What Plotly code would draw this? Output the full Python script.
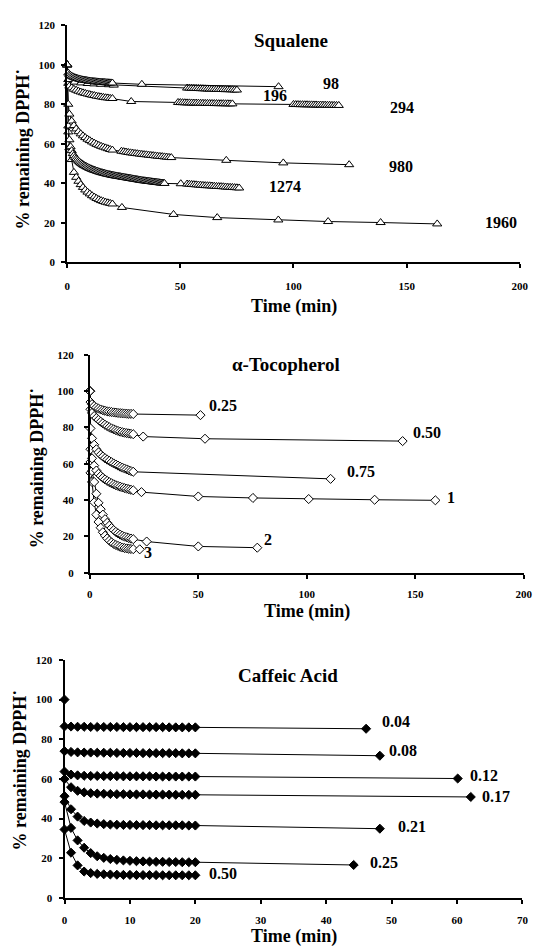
import plotly.graph_objects as go

# ---------------- Squalene (panel 1) ----------------
sq98_t = [0, 0.5, 1, 1.5, 2, 2.5, 3, 3.5, 4, 4.5,
          5, 5.5, 6, 6.5, 7, 7.5, 8, 8.5, 9, 9.5,
          10, 10.5, 11, 11.5, 12, 12.5, 13, 13.5, 14, 14.5,
          15, 15.5, 16, 16.5, 17, 17.5, 18, 18.5, 19, 19.5,
          20, 33, 93.4]
sq98_v = [100, 95.8, 95.0, 94.6, 94.2, 93.9, 93.6, 93.4, 93.2, 93.0,
          92.85, 92.7, 92.55, 92.4, 92.3, 92.2, 92.1, 92.0, 91.9, 91.8,
          91.7, 91.65, 91.6, 91.5, 91.45, 91.4, 91.35, 91.3, 91.25, 91.2,
          91.15, 91.1, 91.05, 91.0, 90.95, 90.9, 90.9, 90.85, 90.8, 90.8,
          90.75, 90.1, 88.9]

sq196_t = [0, 0.5, 3.3, 6.2, 9.1, 12, 14.9, 18.5, 20.6,
           53, 54, 55, 56, 57, 58, 59, 60, 61, 62,
           63, 64, 65, 66, 67, 68, 69, 70, 71, 72,
           73, 74, 75]
sq196_v = [100, 92.5, 91.2, 90.8, 90.5, 90.3, 90.1, 89.9, 89.7,
           88.2, 88.15, 88.1, 88.05, 88.0, 87.95, 87.9, 87.85, 87.8, 87.75,
           87.7, 87.65, 87.6, 87.55, 87.5, 87.5, 87.45, 87.4, 87.4, 87.35,
           87.3, 87.25, 87.2]

sq294_t = [0, 0.5, 1, 2, 3, 4, 5, 6, 7, 8, 9, 10,
           11, 12, 13, 14, 15, 16, 17, 18, 19, 20, 28.3,
           49, 50, 51, 52, 53, 54, 55, 56, 57, 58,
           59, 60, 61, 62, 63, 64, 65, 66, 67, 68,
           69, 70, 71, 72, 73,
           100, 101, 102, 103, 104, 105, 106, 107, 108, 109,
           110, 111, 112, 113, 114, 115, 116, 117, 118, 119, 120]
sq294_v = [100, 90.6, 89.2, 88.3, 87.6, 87.1, 86.6, 86.2, 85.8, 85.5, 85.2, 84.9,
           84.6, 84.4, 84.1, 83.9, 83.7, 83.5, 83.3, 83.2, 83.0, 82.9, 81.4,
           80.9, 80.85, 80.8, 80.75, 80.7, 80.7, 80.65, 80.6, 80.6, 80.55,
           80.5, 80.5, 80.45, 80.45, 80.4, 80.4, 80.35, 80.35, 80.3, 80.3,
           80.3, 80.25, 80.25, 80.2, 80.2,
           79.9, 79.85, 79.85, 79.8, 79.8, 79.75, 79.75, 79.7, 79.7, 79.65,
           79.65, 79.6, 79.6, 79.55, 79.55, 79.5, 79.5, 79.45, 79.45, 79.4, 79.4]

sq980_t = [0, 0.5, 1, 2, 3, 4, 5, 6, 7, 8, 9, 10,
           11, 12, 13, 14, 15, 16, 17, 18, 19, 20,
           24, 25, 26, 27, 28, 29, 30, 31, 32, 33,
           34, 35, 36, 37, 38, 39, 40, 41, 42, 43,
           44, 45, 46, 70.3, 95.5, 124.6]
sq980_v = [100, 80, 75, 71.5, 69.2, 67.5, 66.1, 65, 64, 63.1, 62.3, 61.6,
           60.9, 60.3, 59.7, 59.2, 58.7, 58.3, 57.9, 57.5, 57.1, 56.8,
           56.2, 56.0, 55.8, 55.6, 55.4, 55.25, 55.1, 54.95, 54.8, 54.65,
           54.5, 54.4, 54.25, 54.1, 54.0, 53.85, 53.7, 53.6, 53.5, 53.35,
           53.25, 53.1, 53.0, 51.6, 50.3, 49.4]

sq1274_t = [0, 0.5, 1, 1.5, 2, 2.5, 3, 3.5, 4, 4.5,
            5, 5.5, 6, 6.5, 7, 7.5, 8, 8.5, 9, 9.5,
            10, 10.5, 11, 11.5, 12, 12.5, 13, 13.5, 14, 14.5,
            15, 15.5, 16, 16.5, 17, 17.5, 18, 18.5, 19, 19.5,
            20, 20.5, 21, 21.5, 22, 22.5, 23, 23.5, 24, 24.5,
            25, 25.5, 26, 26.5, 27, 27.5, 28, 28.5, 29, 29.5,
            30, 30.5, 31, 31.5, 32, 32.5, 33, 33.5, 34, 34.5,
            35, 35.5, 36, 36.5, 37, 37.5, 38, 38.5, 39, 39.5,
            40, 40.5, 41, 41.5, 42, 42.5, 43, 50.2,
            53, 54, 55, 56, 57, 58, 59, 60, 61, 62,
            63, 64, 65, 66, 67, 68, 69, 70, 71, 72,
            73, 74, 75, 76]
sq1274_v = [100, 69, 62, 58.5, 56.5, 55, 54, 53.1, 52.4, 51.8,
            51.2, 50.7, 50.2, 49.8, 49.4, 49.0, 48.7, 48.4, 48.1, 47.8,
            47.5, 47.3, 47.0, 46.8, 46.6, 46.4, 46.2, 46.0, 45.8, 45.6,
            45.4, 45.3, 45.1, 45.0, 44.8, 44.7, 44.5, 44.4, 44.3, 44.1,
            44.0, 43.9, 43.8, 43.7, 43.6, 43.5, 43.4, 43.3, 43.2, 43.1,
            43.0, 42.9, 42.8, 42.7, 42.6, 42.5, 42.4, 42.3, 42.2, 42.1,
            42.0, 41.9, 41.8, 41.7, 41.6, 41.5, 41.4, 41.3, 41.25, 41.2,
            41.1, 41.0, 40.95, 40.9, 40.8, 40.7, 40.65, 40.6, 40.5, 40.4,
            40.35, 40.3, 40.2, 40.1, 40.05, 40.0, 39.9, 39.75,
            39.6, 39.5, 39.4, 39.3, 39.2, 39.1, 39.0, 38.9, 38.8, 38.75,
            38.7, 38.6, 38.5, 38.4, 38.35, 38.3, 38.2, 38.1, 38.0, 37.95,
            37.9, 37.8, 37.7, 37.6]

sq1960_t = [0, 0.5, 1, 2, 3, 4, 5, 6, 7, 8, 9, 10,
            11, 12, 13, 14, 15, 16, 17, 18, 19, 20,
            24.2, 47, 66.3, 93.3, 115.3, 138.5, 163.5]
sq1960_v = [100, 66, 58, 52, 45.5, 43, 41, 39.3, 37.9, 36.6, 35.5, 34.6,
            33.7, 33, 32.3, 31.7, 31.2, 30.8, 30.4, 30.1, 29.8, 29.5,
            27.75, 24.2, 22.6, 21.4, 20.6, 20.1, 19.4]

sq_names = ["98", "196", "294", "980", "1274", "1960"]
sq_label_x = [116.4, 91.8, 147.8, 147.5, 96.1, 191.8]
sq_label_y = [90.75, 84.25, 78.25, 48.25, 38.25, 20.25]

# ---------------- alpha-Tocopherol (panel 2) ----------------
toc_t = [0, 0.3, 1, 2, 3, 4, 5, 6, 7, 8, 9, 10,
         11, 12, 13, 14, 15, 16, 17, 18, 19, 20]
toc025_v = [100, 94, 92.8, 91.8, 91, 90.4, 89.9, 89.5, 89.2, 88.9, 88.7, 88.5,
            88.3, 88.2, 88, 87.9, 87.8, 87.7, 87.6, 87.5, 87.5, 87.4]
toc025_tail_t = [51]
toc025_tail_v = [86.8]
toc050_v = [100, 90, 88, 86.3, 85.2, 84.2, 83.2, 82.3, 81.5, 80.8, 80.1, 79.5,
            79, 78.5, 78.1, 77.7, 77.4, 77.1, 76.9, 76.7, 76.5, 76.3]
toc050_tail_t = [24.6, 53.1, 144.2]
toc050_tail_v = [75, 73.8, 72.5]
toc075_v = [100, 79.5, 74, 70.5, 68, 66.3, 65, 64, 63.1, 62.3, 61.6, 60.9,
            60.2, 59.6, 59, 58.4, 57.9, 57.4, 56.9, 56.4, 56, 55.6]
toc075_tail_t = [111]
toc075_tail_v = [51.7]
toc1_v = [100, 68, 63, 59, 56.3, 54.5, 53.3, 52.3, 51.4, 50.6, 49.9, 49.3,
          48.7, 48.2, 47.8, 47.4, 47, 46.6, 46.3, 46, 45.7, 45.4]
toc1_tail_t = [23.8, 50, 75.2, 100.9, 131.3, 159.3]
toc1_tail_v = [44.4, 42, 41.2, 40.6, 40.2, 39.9]
toc2_v = [100, 61, 56, 50, 43.5, 38.5, 35, 32, 29.5, 27.5, 26, 24.6,
          23.5, 22.5, 21.7, 21, 20.4, 19.9, 19.5, 19.1, 18.8, 18.5]
toc2_tail_t = [26.2, 50, 77.2]
toc2_tail_v = [17.2, 14.5, 13.8]
toc3_v = [100, 55, 50, 38.8, 32, 28, 24.8, 22.3, 20.4, 18.9, 17.7, 16.7,
          15.9, 15.3, 14.8, 14.3, 13.9, 13.6, 13.4, 13.2, 13.1, 13.0]
toc3_tail_t = [23]
toc3_tail_v = [12.9]

toc_names = ["0.25", "0.50", "0.75", "1", "2", "3"]
toc_label_x = [61.2, 155.4, 125, 166.3, 82.1, 26.9]
toc_label_y = [91.9, 77.4, 55.6, 41.2, 18.5, 11.3]

# ---------------- Caffeic acid (panel 3) ----------------
caf_t = [0, 1, 2, 3, 4, 5, 6, 7, 8, 9, 10,
         11, 12, 13, 14, 15, 16, 17, 18, 19, 20]
caf_start_t = [0]
caf_start_v = [100]
caf004_v = [86.5, 86.4, 86.3, 86.3, 86.2, 86.2, 86.2, 86.2, 86.2, 86.1, 86.1,
            86.1, 86.1, 86.1, 86.1, 86.1, 86.0, 86.0, 86.0, 86.0, 86.0]
caf004_end = (46.1, 85.3)
caf008_v = [74.0, 73.6, 73.4, 73.3, 73.3, 73.2, 73.2, 73.2, 73.1, 73.1, 73.1,
            73.1, 73.0, 73.0, 73.0, 73.0, 73.0, 73.0, 72.9, 72.9, 72.9]
caf008_end = (48.2, 71.7)
caf012_v = [63.7, 62.2, 61.8, 61.6, 61.5, 61.5, 61.4, 61.4, 61.4, 61.3, 61.3,
            61.3, 61.3, 61.3, 61.2, 61.2, 61.2, 61.2, 61.2, 61.2, 61.2]
caf012_end = (60.1, 60.2)
caf017_v = [59.9, 55.8, 54.0, 53.2, 52.8, 52.6, 52.5, 52.4, 52.3, 52.3, 52.2,
            52.2, 52.2, 52.1, 52.1, 52.1, 52.1, 52.0, 52.0, 52.0, 52.0]
caf017_end = (62.1, 50.9)
caf021_v = [51.3, 44.7, 41.0, 38.8, 38.0, 37.5, 37.2, 37.0, 36.9, 36.8, 36.8,
            36.7, 36.7, 36.7, 36.6, 36.6, 36.6, 36.6, 36.6, 36.5, 36.5]
caf021_end = (48.2, 34.9)
caf025_v = [48.3, 35.3, 29.0, 25.3, 22.6, 21.0, 20.2, 19.6, 19.2, 18.9, 18.7,
            18.5, 18.4, 18.3, 18.2, 18.2, 18.1, 18.1, 18.0, 18.0, 18.0]
caf025_end = (44.2, 16.6)
caf050_v = [34.5, 22.8, 16.4, 13.3, 12.5, 12.1, 11.9, 11.8, 11.7, 11.6, 11.6,
            11.5, 11.5, 11.5, 11.5, 11.4, 11.4, 11.4, 11.4, 11.4, 11.4]

caf_names = ["0.04", "0.08", "0.12", "0.17", "0.21", "0.25", "0.50"]
caf_label_x = [50.7, 51.7, 64.1, 65.9, 53.1, 48.9, 24.2]
caf_label_y = [88.8, 74.4, 61.9, 51.1, 36.2, 17.9, 12.5]

# ---------------- figure ----------------
W, H = 543, 951
FONT = "Liberation Serif"

def px_x(p):
    return p / W

def px_y(p):
    return 1 - p / H

fig = go.Figure()

open_tri = dict(symbol="triangle-up", size=8, color="white",
                line=dict(color="black", width=1))
open_dia = dict(symbol="diamond", size=7, color="white",
                line=dict(color="black", width=1))
fill_dia = dict(symbol="diamond", size=7, color="black",
                line=dict(color="black", width=1))
line_style = dict(color="black", width=1)

def add(x, y, marker, xa, ya):
    assert len(x) == len(y), (len(x), len(y))
    fig.add_trace(go.Scatter(x=x, y=y, mode="lines+markers", marker=marker,
                             line=line_style, xaxis=xa, yaxis=ya,
                             cliponaxis=False, showlegend=False))

# Panel 1
for t, v in [(sq1960_t, sq1960_v), (sq1274_t, sq1274_v), (sq980_t, sq980_v),
             (sq294_t, sq294_v), (sq196_t, sq196_v), (sq98_t, sq98_v)]:
    add(t, v, open_tri, "x", "y")

# Panel 2
for v, tt, tv in [(toc3_v, toc3_tail_t, toc3_tail_v),
                  (toc2_v, toc2_tail_t, toc2_tail_v),
                  (toc1_v, toc1_tail_t, toc1_tail_v),
                  (toc075_v, toc075_tail_t, toc075_tail_v),
                  (toc050_v, toc050_tail_t, toc050_tail_v),
                  (toc025_v, toc025_tail_t, toc025_tail_v)]:
    add(toc_t + tt, v + tv, open_dia, "x2", "y2")

# Panel 3
for v, end in [(caf004_v, caf004_end), (caf008_v, caf008_end),
               (caf012_v, caf012_end), (caf017_v, caf017_end),
               (caf021_v, caf021_end), (caf025_v, caf025_end)]:
    add(caf_t + [end[0]], v + [end[1]], fill_dia, "x3", "y3")
add(caf_t, caf050_v, fill_dia, "x3", "y3")
add(caf_start_t, caf_start_v, fill_dia, "x3", "y3")

tickfont = dict(family=FONT, size=11, color="black", weight="bold")

panels = [
    # (x domain px, y domain px (top,bottom), x range, x ticks, x label standoff)
    ((65.6, 528.5), (19.5, 259.5), [0, 200], [0, 50, 100, 150, 200], 9),
    ((88.8, 532.4), (353.3, 574.0), [0, 200], [0, 50, 100, 150, 200], 6),
    ((62.9, 531.2), (662.3, 903.3), [0, 70], [0, 10, 20, 30, 40, 50, 60, 70], 7),
]

layout = dict(width=W, height=H, margin=dict(l=0, r=0, t=0, b=0),
              plot_bgcolor="white", paper_bgcolor="white", showlegend=False)

for i, (xd, yd, xr, xt, xso) in enumerate(panels, start=1):
    sfx = "" if i == 1 else str(i)
    ov = str(i + 3)
    xdom = [px_x(xd[0]), px_x(xd[1])]
    ydom = [px_y(yd[1]), px_y(yd[0])]
    layout["xaxis" + sfx] = dict(domain=xdom, range=xr, tickvals=xt, anchor="y" + sfx,
                                 showline=True, linecolor="black", linewidth=2,
                                 ticks="outside", ticklen=4, tickwidth=1.5, tickcolor="black",
                                 showgrid=False, zeroline=False, tickfont=tickfont,
                                 ticklabelstandoff=xso, fixedrange=True)
    layout["yaxis" + sfx] = dict(domain=ydom, range=[0, 120], tickvals=[0, 20, 40, 60, 80, 100, 120],
                                 anchor="x" + sfx,
                                 showline=True, linecolor="black", linewidth=2,
                                 ticks="outside", ticklen=4, tickwidth=1.5, tickcolor="black",
                                 showgrid=False, zeroline=False, tickfont=tickfont,
                                 ticklabelstandoff=4 if i != 2 else 8, fixedrange=True)
    layout["xaxis" + ov] = dict(overlaying="x" + sfx, range=xr, tickvals=xt, anchor="y" + sfx,
                                showline=False, ticks="inside", ticklen=4, tickwidth=1.5,
                                tickcolor="black", showticklabels=False, showgrid=False,
                                zeroline=False, fixedrange=True)
    layout["yaxis" + ov] = dict(overlaying="y" + sfx, range=[0, 120],
                                tickvals=[0, 20, 40, 60, 80, 100, 120], anchor="x" + sfx,
                                side="left", showline=False, ticks="inside", ticklen=4,
                                tickwidth=1.5, tickcolor="black", showticklabels=False,
                                showgrid=False, zeroline=False, fixedrange=True)

fig.update_layout(**layout)

bold = lambda s: dict(family=FONT, size=s, color="black", weight="bold")
ann = []

# panel titles
for text, (xp, yp) in [("Squalene", (295, 35)), ("α-Tocopherol", (289.5, 363.3)),
                       ("Caffeic Acid", (291, 678.3))]:
    ann.append(dict(text=text, x=px_x(xp), y=px_y(yp), xref="paper", yref="paper",
                    xanchor="center", yanchor="middle", showarrow=False, font=bold(19)))

# x-axis titles
for xp, yp in [(298, 304), (311, 613), (297.8, 942.5)]:
    ann.append(dict(text="Time (min)", x=px_x(xp), y=px_y(yp), xref="paper", yref="paper",
                    xanchor="center", yanchor="middle", showarrow=False, font=bold(18)))

# y-axis titles
for xp, yp in [(20.7, 145), (34.5, 467.5), (17.3, 773.3)]:
    ann.append(dict(text="% remaining DPPH˙", x=px_x(xp), y=px_y(yp),
                    xref="paper", yref="paper", xanchor="center", yanchor="middle",
                    textangle=-90, showarrow=False, font=bold(18)))

# series labels
for names, xs, ys, xr, yr in [(sq_names, sq_label_x, sq_label_y, "x", "y"),
                              (toc_names, toc_label_x, toc_label_y, "x2", "y2"),
                              (caf_names, caf_label_x, caf_label_y, "x3", "y3")]:
    for n, xv, yv in zip(names, xs, ys):
        ann.append(dict(text=n, x=xv, y=yv, xref=xr, yref=yr, xanchor="center",
                        yanchor="middle", showarrow=False, font=bold(16)))

fig.update_layout(annotations=ann)
fig.write_html("out.html")
